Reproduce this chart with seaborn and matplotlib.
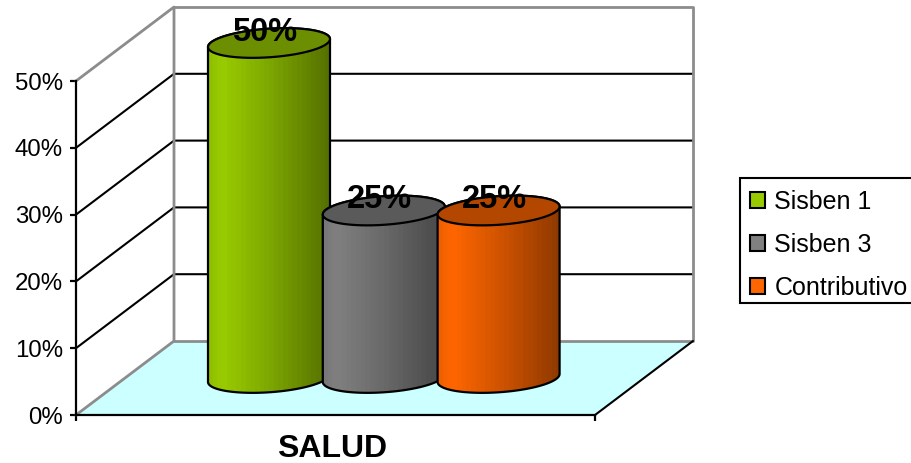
import numpy as np
import pandas as pd
import matplotlib
matplotlib.use("Agg")
import matplotlib.pyplot as plt
from matplotlib.path import Path
from matplotlib.patches import PathPatch, Polygon, Rectangle
import seaborn as sns

# ---- data ----
series = ["Sisben 1", "Sisben 3", "Contributivo"]
values = [50, 25, 25]
value_labels = ["50%", "25%", "25%"]
colors = ["#99CC00", "#808080", "#FF6600"]
y_ticks = [0, 10, 20, 30, 40, 50]
y_tick_labels = ["0%", "10%", "20%", "30%", "40%", "50%"]
category = "SALUD"

sns.set_theme(style="white")
plt.rcParams["font.family"] = ["Liberation Sans", "DejaVu Sans"]

W, H = 911, 463
fig = plt.figure(figsize=(W / 100, H / 100), dpi=100, facecolor="white")


def rect(left, top, right, bottom):
    return [left / W, 1 - bottom / H, (right - left) / W, (bottom - top) / H]


# ---- front plane of the 3D box: real value axis ----
ax = fig.add_axes(rect(76, 81, 595, 415))
ax.set_xlim(0, 1)
ax.set_ylim(0, 50)
ax.set_facecolor("none")
dx = 98 / 519            # depth offset of the box in axis units
dy = 50 * 74 / 334
ymax = y_ticks[-1]
GREY = "#8C8C8C"
ax.add_patch(Polygon([(0, 0), (dx, dy), (1 + dx, dy), (1, 0)], closed=True,
                     fc="#CCFFFF", ec="none", clip_on=False, zorder=0))
for v in y_ticks[1:-1]:
    ax.plot([0, dx, 1 + dx], [v, v + dy, v + dy], color="black", lw=1.5,
            clip_on=False, zorder=1, solid_joinstyle="miter")
ax.plot([0, dx, dx, 0], [ymax, ymax + dy, dy, 0], color=GREY, lw=2.0,
        clip_on=False, zorder=2)
ax.plot([dx, 1 + dx, 1 + dx, dx], [ymax + dy, ymax + dy, dy, dy], color=GREY, lw=2.0,
        clip_on=False, zorder=2)
ax.plot([1, 1 + dx], [0, dy], color="black", lw=1.5, clip_on=False, zorder=3)

for s in ("top", "right"):
    ax.spines[s].set_visible(False)
for s in ("left", "bottom"):
    ax.spines[s].set_visible(True)
    ax.spines[s].set_color("black")
    ax.spines[s].set_linewidth(1.6)
ax.set_yticks(y_ticks, y_tick_labels, fontsize=17.3)
ax.set_xticks([0, 1], ["", ""])
ax.tick_params(axis="both", length=4, width=1.6, color="black", labelcolor="black",
               left=True, bottom=True)
ax.tick_params(axis="y", pad=5.5)
ax.set_xlabel(category, fontsize=23, fontweight="bold", color="black", labelpad=6,
              x=(332 - 76) / 519)
ax.grid(False)

# ---- cylinders: their zero plane sits deeper in the box, so this axes
#      covers the whole figure with limits placing 0-50 on pixels 378-43 ----
bx = fig.add_axes([0, 0, 1, 1])
bx.set_facecolor("none")
df = pd.DataFrame({"serie": series, "valor": values})
sns.barplot(data=df, x="serie", y="valor", hue="serie", order=series, hue_order=series,
            palette=colors, saturation=1, dodge=False, width=122 / 114.8,
            edgecolor="black", linewidth=1.5, legend="full", ax=bx)
handles, labels = bx.get_legend_handles_labels()
if bx.get_legend() is not None:
    bx.get_legend().remove()

px_y = 50 / 335          # data units per pixel, vertical
px_x = 3 / 344.4         # category units per pixel, horizontal
b = 14.3 * px_y
shear = 4.0 * px_y


def arc(cx, a, y0, t0, t1, n=60):
    t = np.linspace(t0, t1, n)
    return np.column_stack([cx + a * np.cos(t), y0 + b * np.sin(t) + shear * np.cos(t)])


shade_t = np.linspace(0, 1, 26)
shade = np.interp(shade_t, [0, 0.1, 0.5, 1], [0.94, 1.0, 0.82, 0.56])
shade = shade[None, :, None]

for i, (bar, col, lab) in enumerate(zip(bx.patches, colors, value_labels)):
    x0, w, h = bar.get_x(), bar.get_width(), bar.get_height()
    cx, a = x0 + w / 2, w / 2
    z = 3 + i * 2
    body = np.vstack([arc(cx, a, 0, np.pi, 2 * np.pi), arc(cx, a, h, 0, np.pi)])
    body_path = Path(np.vstack([body, body[:1]]), closed=True)
    bar.set_zorder(z)
    bar.set_clip_path(body_path, bx.transData)
    rgb = np.array(matplotlib.colors.to_rgb(col))[None, None, :]
    img = bx.imshow(np.clip(rgb * shade, 0, 1), extent=(x0, x0 + w, -b * 2, h + b * 2),
                    aspect="auto", interpolation="nearest", zorder=z + 0.1)
    img.set_clip_path(body_path, bx.transData)
    bx.add_patch(PathPatch(body_path, fc="none", ec="black", lw=1.6, zorder=z + 0.2,
                           clip_on=False))
    top = arc(cx, a, h, 0, 2 * np.pi, 120)
    bx.add_patch(Polygon(top, closed=True, fc=tuple(rgb[0, 0] * 0.7), ec="black", lw=1.6,
                         zorder=z + 0.3, clip_on=False))
    bx.annotate(lab, xy=(cx, h), xytext=(-3, 1.5), textcoords="offset points",
                ha="center", va="baseline", fontsize=23.5, fontweight="bold",
                color="black", zorder=20, annotation_clip=False)

bx.set_xlim(-0.5 - 211.6 * px_x, 2.5 + (W - 556.0) * px_x)
bx.set_ylim(-(H - 378) * px_y, 50 + 43 * px_y)
bx.axis("off")

# ---- legend, its frame running off the right edge as in the source ----
fig.add_artist(Rectangle((740 / W, 1 - 303 / H), 200 / W, 125 / H, transform=fig.transFigure,
                         fc="white", ec="black", lw=1.5, zorder=1))
leg = fig.legend(handles, labels, loc="upper left",
                 bbox_to_anchor=(750 / W, 1 - 190 / H), bbox_transform=fig.transFigure,
                 borderaxespad=0, fontsize=18, frameon=False,
                 handlelength=0.6, handleheight=0.6, handletextpad=0.37,
                 labelspacing=0.76, borderpad=0, labelcolor="black")
leg.set_zorder(2)

fig.savefig("out.png", dpi=100, facecolor="white")
